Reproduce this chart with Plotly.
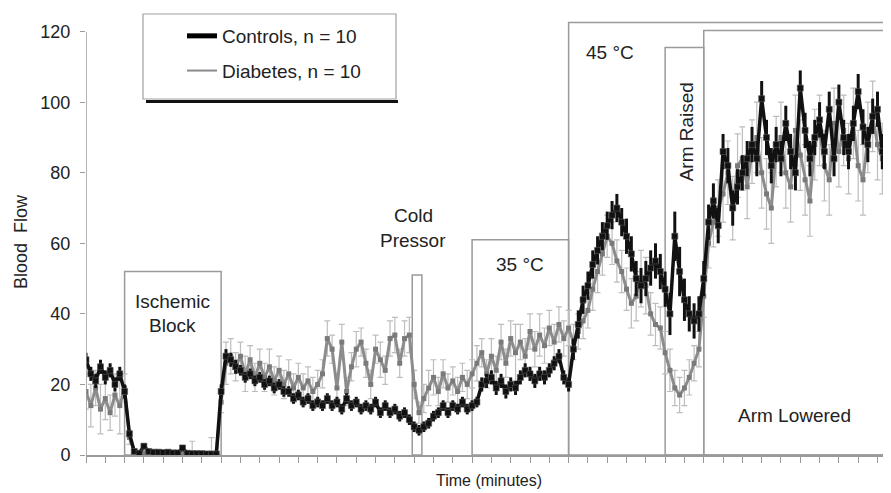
import plotly.graph_objects as go

# ---- data ----
step_min = 0.25
n_pts = 168
time_min = [i * step_min for i in range(n_pts)]

controls = [
    27, 23, 21, 25, 22, 24, 20, 23,
    18, 6, 1, 0.5, 2.5, 1, 0.8, 0.8,
    0.7, 0.8, 0.6, 0.6, 2, 0.5, 0.4, 0.4,
    0.4, 0.3, 0.3, 0.3, 18, 28, 27, 25,
    24, 22, 23, 21, 22, 20, 21, 19,
    20, 18, 18, 16, 17, 15, 16, 14,
    15, 14, 16, 14, 15, 13, 16, 14,
    15, 13, 14, 13, 15, 12, 14, 12,
    13, 11, 12, 10, 8, 7, 8, 9,
    11, 12, 14, 12, 14, 13, 15, 13,
    14, 15, 20, 21, 22, 19, 21, 18,
    20, 19, 22, 24, 23, 21, 23, 22,
    24, 26, 28, 22, 20, 30, 37, 44,
    48, 54, 58, 62, 65, 68, 70, 66,
    62, 57, 50, 48, 50, 53, 55, 52,
    47, 40, 62, 52, 44, 40, 38, 40,
    50, 66, 72, 65, 86, 82, 70, 76,
    80, 84, 88, 84, 101, 90, 82, 88,
    84, 94, 86, 80, 104, 92, 84, 90,
    95, 86, 98, 84, 100, 90, 86, 94,
    103, 93, 88, 96, 98, 86, 93, 98,
]
controls_err = [
    2, 2, 2, 2, 2, 2, 2, 2,
    2, 1, 0.3, 0.3, 0.5, 0.3, 0.3, 0.3,
    0.3, 0.3, 0.3, 0.3, 0.5, 0.3, 0.3, 0.3,
    0.3, 0.3, 0.3, 0.3, 2, 2, 2, 2,
    1.5, 1.5, 1.5, 1.5, 1.5, 1.5, 1.5, 1.5,
    1.5, 1.5, 1.5, 1.5, 1.5, 1.5, 1.5, 1.5,
    1.5, 1.5, 1.5, 1.5, 1.5, 1.5, 1.5, 1.5,
    1.5, 1.5, 1.5, 1.5, 1.5, 1.5, 1.5, 1.5,
    1.5, 1.5, 1.5, 1.5, 1.5, 1.5, 1.5, 1.5,
    1.5, 1.5, 1.5, 1.5, 1.5, 1.5, 1.5, 1.5,
    1.5, 1.5, 2, 2, 2, 2, 2, 2,
    2, 2, 2, 2, 2, 2, 2, 2,
    2, 2, 2, 2, 2, 3, 4, 4,
    4, 4, 4, 4, 4, 4, 4, 4,
    5, 5, 5, 5, 5, 5, 5, 5,
    5, 6, 7, 7, 6, 5, 5, 5,
    5, 5, 5, 5, 5, 5, 5, 5,
    5, 5, 5, 5, 5, 5, 5, 5,
    5, 5, 5, 5, 5, 5, 5, 5,
    5, 5, 5, 5, 5, 5, 5, 5,
    5, 5, 5, 5, 5, 5, 5, 5,
]
diabetes = [
    18, 14, 19, 13, 16, 12, 17, 14,
    19, 5, 1, 0.6, 0.6, 0.5, 0.5, 0.5,
    0.5, 0.4, 0.4, 0.4, 0.4, 0.4, 0.4, 0.4,
    0.4, 0.3, 0.4, 0.3, 15, 26, 28, 25,
    28, 23, 27, 22, 26, 22, 25, 21,
    24, 20, 23, 19, 22, 19, 21, 18,
    20, 23, 33, 30, 19, 32, 18, 25,
    30, 32, 26, 20, 30, 27, 24, 33,
    34, 26, 33, 34, 20, 12, 16, 19,
    22, 18, 23, 19, 21, 18, 22, 20,
    23, 26, 29, 23, 28, 24, 32, 26,
    33, 29, 32, 28, 35, 30, 34, 31,
    36, 32, 37, 33, 36, 32, 35, 38,
    41, 47, 52, 57, 62, 60, 55, 52,
    47, 43, 45, 50, 48, 40, 37, 36,
    29, 24, 19, 17, 19, 22, 26, 30,
    45, 60, 66, 70, 74, 80, 70, 82,
    84, 76, 86, 90, 80, 74, 70, 86,
    90, 80, 76, 92, 85, 78, 72, 88,
    92, 82, 78, 94, 86, 92, 84, 94,
    82, 78, 90, 96, 88, 84, 94, 86,
]
diabetes_err = [
    5, 6, 5, 7, 6, 5, 6, 8,
    4, 2, 0.5, 0.5, 0.5, 0.5, 0.5, 0.5,
    0.5, 0.5, 0.5, 0.5, 0.5, 0.5, 3.5, 0.5,
    0.5, 0.5, 4.5, 0.5, 3, 6, 5, 4,
    4, 5, 4, 4, 4, 4, 5, 4,
    4, 4, 4, 4, 4, 4, 4, 4,
    4, 4, 5, 4, 4, 5, 4, 4,
    5, 4, 4, 4, 4, 5, 4, 5,
    5, 4, 5, 5, 4, 3, 4, 5,
    5, 4, 4, 4, 4, 4, 4, 4,
    4, 5, 4, 4, 5, 4, 5, 4,
    5, 8, 5, 5, 5, 5, 6, 5,
    5, 5, 5, 5, 5, 5, 5, 5,
    5, 6, 6, 6, 6, 6, 6, 6,
    6, 7, 7, 8, 8, 6, 6, 6,
    6, 6, 5, 5, 5, 5, 5, 5,
    6, 7, 7, 8, 8, 9, 9, 9,
    9, 9, 9, 10, 10, 10, 10, 10,
    10, 10, 10, 10, 10, 10, 10, 10,
    10, 10, 10, 10, 10, 10, 10, 10,
    10, 10, 10, 10, 10, 10, 10, 10,
]

y_ticks = [0, 20, 40, 60, 80, 100, 120]

# phase boxes: (start, end, top)
phases = [
    (2, 7, 52),          # Ischemic Block
    (16.9, 17.4, 51),    # Cold Pressor
    (20, 25, 61),        # 35 °C
    (25, 45, 122.6),     # 45 °C
    (30, 32, 115.5),     # Arm Raised
    (32, 45, 120.3),     # Arm Lowered
]

FONT = "Liberation Sans, Arial, sans-serif"
TXT = "#222222"
AX = "#9a9a9a"

fig = go.Figure()

fig.add_trace(go.Scatter(
    x=time_min, y=diabetes, mode="lines+markers",
    line=dict(color="#8c8c8c", width=3),
    marker=dict(symbol="square", size=5, color="#7a7a7a"),
    error_y=dict(type="data", array=diabetes_err, color="#bdbdbd",
                 thickness=1.2, width=3),
    showlegend=False, hoverinfo="skip",
))
fig.add_trace(go.Scatter(
    x=time_min, y=controls, mode="lines+markers",
    line=dict(color="#111111", width=3.5),
    marker=dict(symbol="square", size=6, color="#111111",
                line=dict(color="#555555", width=0.6)),
    error_y=dict(type="data", array=controls_err, color="#111111",
                 thickness=3, width=0),
    showlegend=False, hoverinfo="skip",
))

# legend entries (line samples only, as in the reference)
fig.add_trace(go.Scatter(x=[None], y=[None], mode="lines",
                         line=dict(color="#000000", width=5),
                         name="Controls, n = 10", legendgroup="a"))
fig.add_trace(go.Scatter(x=[None], y=[None], mode="lines",
                         line=dict(color="#8a8a8a", width=2),
                         name="Diabetes, n = 10", legendgroup="b"))

shapes = []
for x0, x1, top in phases:
    shapes.append(dict(type="rect", xref="x", yref="y", x0=x0, x1=x1, y0=0, y1=top,
                       line=dict(color=AX, width=1.5), fillcolor="rgba(0,0,0,0)",
                       layer="below"))
# y axis line (0 to 120 only)
shapes.append(dict(type="line", xref="x", yref="y", x0=0, x1=0, y0=0, y1=120,
                   line=dict(color=AX, width=1.5)))

# plot area in screen pixels (page has an 8px body offset)
PW, PH, L, T = 805.0, 441.0, 86.0, 14.0
def px(x):
    return (x - L) / PW
def py(y):
    return (T + PH - y) / PH

# legend frame with drop shadow
shapes.append(dict(type="rect", xref="paper", yref="paper",
                   x0=px(143), x1=px(396), y0=py(99), y1=py(14),
                   line=dict(color="#a0a0a0", width=1.2), fillcolor="white"))
shapes.append(dict(type="line", xref="paper", yref="paper",
                   x0=px(146), x1=px(398), y0=py(101.5), y1=py(101.5),
                   line=dict(color="#111111", width=3)))

ann_font = dict(family=FONT, size=19, color=TXT)
annotations = [
    dict(x=4.46, y=43.4, text="Ischemic"),
    dict(x=4.46, y=36.6, text="Block"),
    dict(x=16.94, y=68.0, text="Cold"),
    dict(x=16.94, y=60.9, text="Pressor"),
    dict(x=22.5, y=53.9, text="35 °C"),
    dict(x=27.15, y=114.2, text="45 °C"),
    dict(x=31.09, y=91.5, text="Arm Raised", textangle=-90),
    dict(x=36.68, y=11.3, text="Arm Lowered"),
]
for a in annotations:
    a.update(xref="x", yref="y", showarrow=False, font=ann_font,
             xanchor="center", yanchor="middle")
annotations.append(dict(xref="paper", yref="paper", x=px(21), y=py(242),
                        xanchor="center", yanchor="middle",
                        text="Blood  Flow", textangle=-90, showarrow=False,
                        font=dict(family=FONT, size=18, color=TXT)))
annotations.append(dict(xref="paper", yref="paper", x=px(489), y=py(481),
                        xanchor="center", yanchor="middle",
                        text="Time (minutes)", showarrow=False,
                        font=dict(family=FONT, size=16, color=TXT)))

fig.update_layout(
    width=883, height=485,
    margin=dict(l=78, r=0, t=6, b=38),
    paper_bgcolor="white", plot_bgcolor="white",
    shapes=shapes, annotations=annotations,
    showlegend=True,
    legend=dict(x=px(182), y=py(17), xanchor="left", yanchor="top",
                bgcolor="rgba(0,0,0,0)", borderwidth=0,
                tracegroupgap=7,
                font=dict(family=FONT, size=19, color=TXT)),
    xaxis=dict(range=[0, 41.7], dtick=1, tick0=0, showticklabels=False,
               ticks="outside", ticklen=6, tickcolor=AX, tickwidth=1,
               showline=True, linecolor=AX, linewidth=1.5,
               showgrid=False, zeroline=False, fixedrange=True),
    yaxis=dict(range=[0, 125], tickvals=y_ticks, ticks="outside", ticklen=5,
               tickcolor=AX, tickwidth=1, showline=False, showgrid=False,
               zeroline=False, ticklabelstandoff=6,
               tickfont=dict(family=FONT, size=18, color=TXT)),
)

fig.write_html("out.html")
